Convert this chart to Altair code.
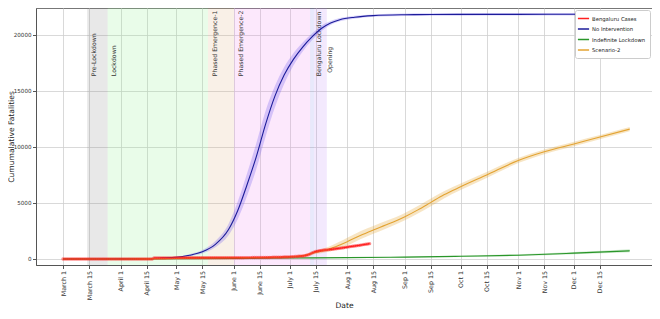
import altair as alt
import pandas as pd

# ---------------- data ----------------
span_names = ["Pre-Lockdown", "Lockdown", "Phased Emergence-1", "Phased Emergence-2",
              "Bengaluru Lockdown", "Opening"]
span_start = ["2020-03-14", "2020-03-25", "2020-05-18", "2020-06-01", "2020-07-12", "2020-07-14"]
span_end = ["2020-03-25", "2020-05-18", "2020-06-01", "2020-07-12", "2020-07-14", "2020-07-21"]
span_fill = ["rgba(128,128,128,0.18)", "rgba(144,238,144,0.2)", "rgba(222,170,120,0.18)",
             "rgba(238,130,238,0.18)", "rgba(100,110,230,0.15)", "rgba(180,120,240,0.16)"]
label_dates = ["2020-03-16", "2020-03-27", "2020-05-20", "2020-06-03", "2020-07-15", "2020-07-21"]
label_y = [16300, 16300, 16300, 16300, 16300, 16600]

# Bengaluru cases, daily from 2020-03-01
cases_mar = [0, 0, 0, 0, 0, 0, 0, 0, 0, 0, 0, 0, 0, 0, 0, 0, 0, 0, 0, 0, 0, 0, 0, 0, 1, 1, 1, 1, 2, 2, 2]
cases_apr = [2, 2, 3, 3, 3, 3, 3, 3, 3, 3, 3, 3, 3, 3, 3, 3, 3, 3,
             90, 92, 94, 95, 96, 97, 98, 99, 100, 100, 101, 102]
cases_may = [102, 103, 103, 104, 104, 105, 105, 106, 106, 107, 107, 108, 108, 109, 109, 110,
             110, 111, 111, 112, 112, 113, 113, 114, 114, 115, 115, 116, 116, 117, 117]
cases_jun = [118, 118, 119, 120, 120, 121, 122, 122, 123, 124, 125, 126, 127, 128, 130, 132,
             134, 136, 138, 141, 144, 147, 150, 154, 158, 162, 167, 172, 178, 184]
cases_jul = [191, 199, 208, 218, 229, 242, 257, 275, 298, 330, 380, 450, 530, 600, 660, 700,
             730, 755, 775, 795, 815, 835, 855, 875, 895, 915, 935, 960, 985, 1010, 1035]
cases_aug = [1060, 1085, 1110, 1135, 1160, 1185, 1210, 1235, 1260, 1285, 1310, 1340, 1370]

ni_dates = ["2020-03-01", "2020-03-15", "2020-04-01", "2020-04-15", "2020-05-01", "2020-05-08",
            "2020-05-15", "2020-05-22", "2020-05-29", "2020-06-03", "2020-06-08", "2020-06-13",
            "2020-06-18", "2020-06-23", "2020-06-28", "2020-07-03", "2020-07-08", "2020-07-13",
            "2020-07-18", "2020-07-23", "2020-07-28", "2020-08-05", "2020-08-15", "2020-09-01",
            "2020-09-15", "2020-10-01", "2020-11-01", "2020-12-01", "2020-12-31"]
ni_vals = [0, 2, 10, 40, 150, 330, 640, 1300, 2600, 4300, 6600, 9100, 12000, 14500, 16400,
           17800, 18900, 19800, 20550, 21050, 21340, 21560, 21700, 21780, 21800, 21810, 21815,
           21820, 21820]
ni_lo = [0, 0, 6, 28, 110, 250, 500, 1050, 2100, 3550, 5600, 8000, 10900, 13500, 15600, 17250,
         18500, 19500, 20300, 20870, 21190, 21430, 21590, 21660, 21690, 21700, 21710, 21710, 21710]
ni_hi = [0, 4, 15, 55, 200, 430, 800, 1600, 3100, 5100, 7600, 10300, 13200, 15400, 17100, 18350,
         19300, 20100, 20800, 21220, 21480, 21690, 21810, 21890, 21910, 21920, 21925, 21930, 21930]

il_dates = ["2020-03-01", "2020-04-01", "2020-05-01", "2020-06-01", "2020-07-01", "2020-08-01",
            "2020-09-01", "2020-10-01", "2020-11-01", "2020-12-01", "2020-12-31"]
il_vals = [0, 3, 30, 60, 90, 120, 170, 240, 340, 520, 730]
il_lo = [0, 2, 20, 45, 70, 95, 130, 180, 260, 420, 600]
il_hi = [0, 5, 40, 75, 110, 145, 210, 300, 420, 620, 860]

s2_dates = ["2020-03-01", "2020-04-01", "2020-05-01", "2020-06-01", "2020-06-15", "2020-07-01",
            "2020-07-08", "2020-07-15", "2020-07-22", "2020-07-28", "2020-08-01", "2020-08-08",
            "2020-08-15", "2020-08-22", "2020-09-01", "2020-09-08", "2020-09-15", "2020-09-22",
            "2020-10-01", "2020-10-15", "2020-11-01", "2020-11-15", "2020-12-01", "2020-12-15",
            "2020-12-31"]
s2_vals = [0, 3, 60, 110, 140, 200, 290, 600, 870, 1250, 1540, 2100, 2590, 3050, 3770, 4380,
           5050, 5720, 6440, 7490, 8780, 9560, 10260, 10870, 11580]
s2_lo = [0, 2, 50, 95, 120, 170, 240, 450, 650, 950, 1200, 1750, 2250, 2720, 3450, 4050, 4700,
         5400, 6150, 7230, 8550, 9350, 10060, 10680, 11400]
s2_hi = [0, 5, 70, 125, 160, 230, 340, 750, 1100, 1550, 1900, 2480, 2950, 3400, 4100, 4720,
         5400, 6050, 6740, 7750, 9010, 9770, 10460, 11060, 11760]

series_names = ["Bengaluru Cases", "No Intervention", "Indefinite Lockdown", "Scenario-2"]
series_colors = ["#ff2020", "#1c1c9a", "#2a962a", "#e3a332"]
band_fills = ["rgba(123,104,238,0.3)", "rgba(60,170,60,0.25)", "rgba(230,170,60,0.3)"]

tick_dates = ["2020-03-01", "2020-03-15", "2020-04-01", "2020-04-15", "2020-05-01", "2020-05-15",
              "2020-06-01", "2020-06-15", "2020-07-01", "2020-07-15", "2020-08-01", "2020-08-15",
              "2020-09-01", "2020-09-15", "2020-10-01", "2020-10-15", "2020-11-01", "2020-11-15",
              "2020-12-01", "2020-12-15"]
tick_labels = ["March 1", "March 15", "April 1", "April 15", "May 1", "May 15", "June 1",
               "June 15", "July 1", "July 15", "Aug 1", "Aug 15", "Sep 1", "Sep 15", "Oct 1",
               "Oct 15", "Nov 1", "Nov 15", "Dec 1", "Dec 15"]
y_ticks = [0, 5000, 10000, 15000, 20000]

# ---------------- tables ----------------
cases = cases_mar + cases_apr + cases_may + cases_jun + cases_jul + cases_aug
cases_df = pd.DataFrame({"date": pd.date_range("2020-03-01", periods=len(cases), freq="D"),
                         "value": cases, "series": "Bengaluru Cases"})


def mk(dates, vals, lo, hi, name, fill):
    return pd.DataFrame({"date": pd.to_datetime(dates), "value": vals, "lo": lo, "hi": hi,
                         "series": name, "fill": fill})


ni_df = mk(ni_dates, ni_vals, ni_lo, ni_hi, "No Intervention", band_fills[0])
il_df = mk(il_dates, il_vals, il_lo, il_hi, "Indefinite Lockdown", band_fills[1])
s2_df = mk(s2_dates, s2_vals, s2_lo, s2_hi, "Scenario-2", band_fills[2])
bands_df = pd.concat([ni_df, il_df, s2_df], ignore_index=True)
lines_df = pd.concat([cases_df, ni_df[["date", "value", "series"]],
                      il_df[["date", "value", "series"]], s2_df[["date", "value", "series"]]],
                     ignore_index=True)

spans_df = pd.DataFrame({"start": pd.to_datetime(span_start), "end": pd.to_datetime(span_end),
                         "fill": span_fill, "name": span_names})
labels_df = pd.DataFrame({"date": pd.to_datetime(label_dates), "y": label_y, "name": span_names})


def dt(s, hours=0):
    y, m, d = [int(p) for p in s.split("-")]
    return alt.DateTime(year=y, month=m, date=d, hours=hours)


# label lookup: month index + day -> label text
keys = [f"{int(d[5:7]) - 1}-{int(d[8:10])}" for d in tick_dates]
label_map = ", ".join(f"'{k}': '{l}'" for k, l in zip(keys, tick_labels))
label_expr = ("{" + label_map + "}[month(datum.value) + '-' + "
              "date(datum.value + 6*3600*1000)]")

FONT = "DejaVu Sans"
xscale = alt.Scale(domain=[dt("2020-02-15", 11), dt("2021-01-12")], nice=False)
yscale = alt.Scale(domain=[-535, 22380], nice=False, zero=False)

xaxis = alt.Axis(values=[dt(d, 0) for d in tick_dates], labelExpr=label_expr, labelAngle=270,
                 labelOverlap=False, labelFontSize=6.3, labelColor="#333", title="Date",
                 titleFontSize=7.6, titleFontWeight="normal", titleColor="#222",
                 titleY=36, titleBaseline="top",
                 grid=True, gridColor="#cfcfcf", gridWidth=0.8, tickSize=3.5, tickColor="#555",
                 domainColor="#555", labelPadding=2, labelSeparation=0)
yaxis = alt.Axis(values=y_ticks, format="d", labelFontSize=5.6, labelColor="#333",
                 labelOverlap=False,
                 title="Cumumalative Fatalities", titleFontSize=7.6, titleFontWeight="normal",
                 titleColor="#222", titleX=-21, grid=True, gridColor="#cfcfcf", gridWidth=0.8,
                 tickSize=3.5, tickColor="#555", domainColor="#555", labelPadding=1.5)

X = alt.X("date:T", scale=xscale, axis=xaxis)
Y = alt.Y("value:Q", scale=yscale, axis=yaxis)

spans = alt.Chart(spans_df).mark_rect().encode(
    x=alt.X("start:T", scale=xscale, axis=xaxis), x2="end:T",
    color=alt.Color("fill:N", scale=None))

span_text = alt.Chart(labels_df).mark_text(angle=270, align="left", baseline="top",
                                           fontSize=6.2, font=FONT, color="#333").encode(
    x=alt.X("date:T", scale=xscale, axis=xaxis), y=alt.Y("y:Q", scale=yscale, axis=yaxis),
    text="name:N")

bands = alt.Chart(bands_df).mark_area(interpolate="monotone").encode(
    x=alt.X("date:T", scale=xscale, axis=xaxis), y=alt.Y("lo:Q", scale=yscale, axis=yaxis),
    y2="hi:Q", color=alt.Color("fill:N", scale=None))

lines = alt.Chart(lines_df).mark_line(strokeWidth=1.1, interpolate="monotone").encode(
    x=X, y=Y,
    color=alt.Color("series:N", scale=alt.Scale(domain=series_names, range=series_colors),
                    sort=series_names,
                    legend=alt.Legend(title=None, orient="top-right", offset=2,
                                      fillColor="white", strokeColor="#cccccc",
                                      cornerRadius=2, padding=4, labelFontSize=5.3,
                                      labelFont=FONT, labelColor="#222",
                                      symbolType="M-1.6,0L1.6,0", symbolSize=49,
                                      symbolStrokeWidth=1.5, rowPadding=2.5, labelOffset=4)))

red_pts = alt.Chart(cases_df).mark_circle(size=12, opacity=0.5, color="#ff1a1a").encode(
    x=alt.X("date:T", scale=xscale, axis=xaxis), y=alt.Y("value:Q", scale=yscale, axis=yaxis))

chart = alt.layer(spans, span_text, bands, lines, red_pts).properties(
    width=616, height=257,
    autosize=alt.AutoSizeParams(type="none"),
    padding={"left": 28, "top": 0, "right": 0, "bottom": 46},
).configure(font=FONT).configure_view(stroke="#777", strokeWidth=1).configure_axisX(
    labelOverlap=False)

chart.save("out.html", embed_options={"renderer": "svg", "actions": False})
